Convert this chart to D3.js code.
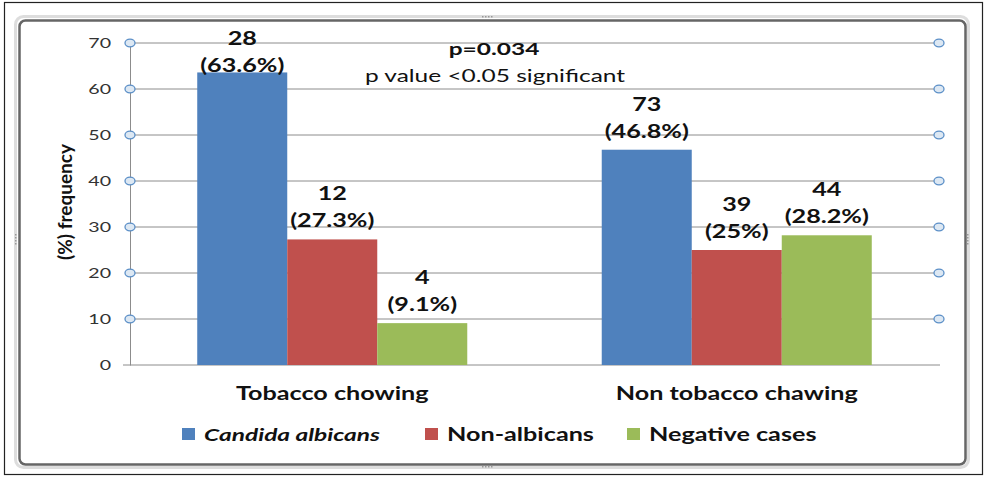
<!DOCTYPE html>
<html>
<head>
<meta charset="utf-8">
<script src="https://cdn.jsdelivr.net/npm/d3@7"></script>
<style>
  body { margin: 0; background: #fff; }
  svg { display: block; font-family: Lato, "Open Sans", sans-serif; }
</style>
</head>
<body>
<svg id="chart" width="984" height="477"></svg>
<script>
const categories = ["Tobacco chowing", "Non tobacco chawing"];
const seriesNames = ["Candida albicans", "Non-albicans", "Negative cases"];
const percentValues = [
  [63.6, 27.3, 9.1],
  [46.8, 25, 28.2]
];
const countValues = [
  [28, 12, 4],
  [73, 39, 44]
];
const percentLabels = [
  ["(63.6%)", "(27.3%)", "(9.1%)"],
  ["(46.8%)", "(25%)", "(28.2%)"]
];
const yTicks = [0, 10, 20, 30, 40, 50, 60, 70];
const colors = ["#4f81bd", "#c0504d", "#9bbb59"];

const SX = 1.4; // the picture is stretched sideways
const svg = d3.select("#chart");

// text at (x,y), stretched horizontally around its anchor
function wideText(parent, x, y, str, size, opts = {}) {
  return parent.append("text")
    .attr("transform", `translate(${x},${y}) scale(${SX},1)`)
    .attr("text-anchor", opts.anchor || "middle")
    .attr("font-size", size)
    .attr("font-weight", opts.weight || "normal")
    .attr("font-style", opts.style || "normal")
    .attr("fill", opts.fill || "#111")
    .text(str);
}

// outer black frame + grey chart-area frame
svg.append("rect").attr("x", 4.5).attr("y", 2.5).attr("width", 978).attr("height", 472)
  .attr("fill", "none").attr("stroke", "#222").attr("stroke-width", 1.2);
svg.append("rect").attr("x", 15.5).attr("y", 16.5).attr("width", 953).attr("height", 451)
  .attr("rx", 8).attr("fill", "none").attr("stroke", "#ddd").attr("stroke-width", 3);
svg.append("rect").attr("x", 19.5).attr("y", 20.5).attr("width", 946).attr("height", 444)
  .attr("rx", 6).attr("fill", "#fff").attr("stroke", "#666").attr("stroke-width", 2.5);

// resize handles
[[488, 17], [488, 467], [16, 240], [968, 240]].forEach(([hx, hy], i) => {
  for (let k = -2; k <= 1; k++) {
    svg.append("rect")
      .attr("x", i < 2 ? hx + k * 3 : hx - 1)
      .attr("y", i < 2 ? hy - 1 : hy + k * 3)
      .attr("width", 1.5).attr("height", 1.5).attr("fill", "#999");
  }
});

const plotLeft = 130, plotRight = 939, plotTop = 43, plotBottom = 365;

const x0 = d3.scaleBand().domain(categories).range([plotLeft, plotRight]).paddingInner(0).paddingOuter(0);
const x1 = d3.scaleBand().domain(seriesNames).range([0, x0.bandwidth()]).paddingOuter(0.747).paddingInner(0);
const y = d3.scaleLinear().domain([0, 70]).range([plotBottom, plotTop]);

// gridlines
svg.append("g").selectAll("line").data(yTicks.filter(d => d > 0)).join("line")
  .attr("x1", plotLeft).attr("x2", plotRight)
  .attr("y1", d => y(d)).attr("y2", d => y(d))
  .attr("stroke", "#8c8c8c").attr("stroke-width", 1);

// left axis
const yAxis = svg.append("g").attr("transform", `translate(${plotLeft},0)`)
  .call(d3.axisLeft(y).tickValues(yTicks).tickSize(0).tickPadding(19));
yAxis.select(".domain").attr("stroke", "#8c8c8c");
yAxis.selectAll("text")
  .attr("x", 0).attr("dy", "0.35em")
  .attr("transform", `translate(-19,0) scale(${SX},1)`)
  .attr("font-size", 14).attr("fill", "#333")
  .attr("font-family", "Lato, 'Open Sans', sans-serif");

// baseline
svg.append("line").attr("x1", plotLeft - 7).attr("x2", plotRight + 1)
  .attr("y1", y(0)).attr("y2", y(0)).attr("stroke", "#8c8c8c");

// bars
const groups = svg.append("g").selectAll("g").data(categories).join("g")
  .attr("transform", d => `translate(${x0(d)},0)`);

groups.selectAll("rect").data((c, ci) => seriesNames.map((s, si) => ({ s, si, ci, v: percentValues[ci][si] })))
  .join("rect")
  .attr("x", d => x1(d.s)).attr("width", x1.bandwidth())
  .attr("y", d => y(d.v)).attr("height", d => y(0) - y(d.v))
  .attr("fill", d => colors[d.si]);

// data labels
groups.each(function (c, ci) {
  const g = d3.select(this);
  seriesNames.forEach((s, si) => {
    const cx = x1(s) + x1.bandwidth() / 2;
    let b2 = y(percentValues[ci][si]) - 12;
    if (b2 < 72) b2 = 72;
    wideText(g, cx, b2 - 27, countValues[ci][si], 18, { weight: "bold" });
    wideText(g, cx, b2, percentLabels[ci][si], 18, { weight: "bold" });
  });
});

// markers on both axes
[plotLeft, plotRight].forEach(ax => {
  svg.append("g").selectAll("ellipse").data(yTicks.filter(d => d > 0)).join("ellipse")
    .attr("cx", ax).attr("cy", d => y(d)).attr("rx", 5).attr("ry", 3.8)
    .attr("fill", "#dde8f3").attr("stroke", "#5b8fc7").attr("stroke-width", 1.3);
});

// category labels
categories.forEach(c => {
  wideText(svg, x0(c) + x0.bandwidth() / 2, 400, c, 18, { weight: "bold" });
});

// y title
svg.append("text").attr("transform", "translate(72,202) rotate(-90)")
  .attr("text-anchor", "middle").attr("font-size", 19).attr("font-weight", "bold")
  .attr("fill", "#111").text("(%) frequency");

// annotation
wideText(svg, 494, 55, "p=0.034", 17.5, { weight: "bold" });
wideText(svg, 495, 82, "p value <0.05 significant", 17.5);

// legend
const legendX = [182, 425, 627];
const leg = svg.append("g").selectAll("g").data(seriesNames).join("g")
  .attr("transform", (d, i) => `translate(${legendX[i]},434)`);
leg.append("rect").attr("x", 0).attr("y", -6).attr("width", 13).attr("height", 12)
  .attr("fill", (d, i) => colors[i]);
leg.each(function (d, i) {
  wideText(d3.select(this), 22, 6.5, d, i === 0 ? 17.5 : 18, {
    anchor: "start",
    weight: "bold",
    style: i === 0 ? "italic" : "normal"
  });
});
</script>
</body>
</html>
